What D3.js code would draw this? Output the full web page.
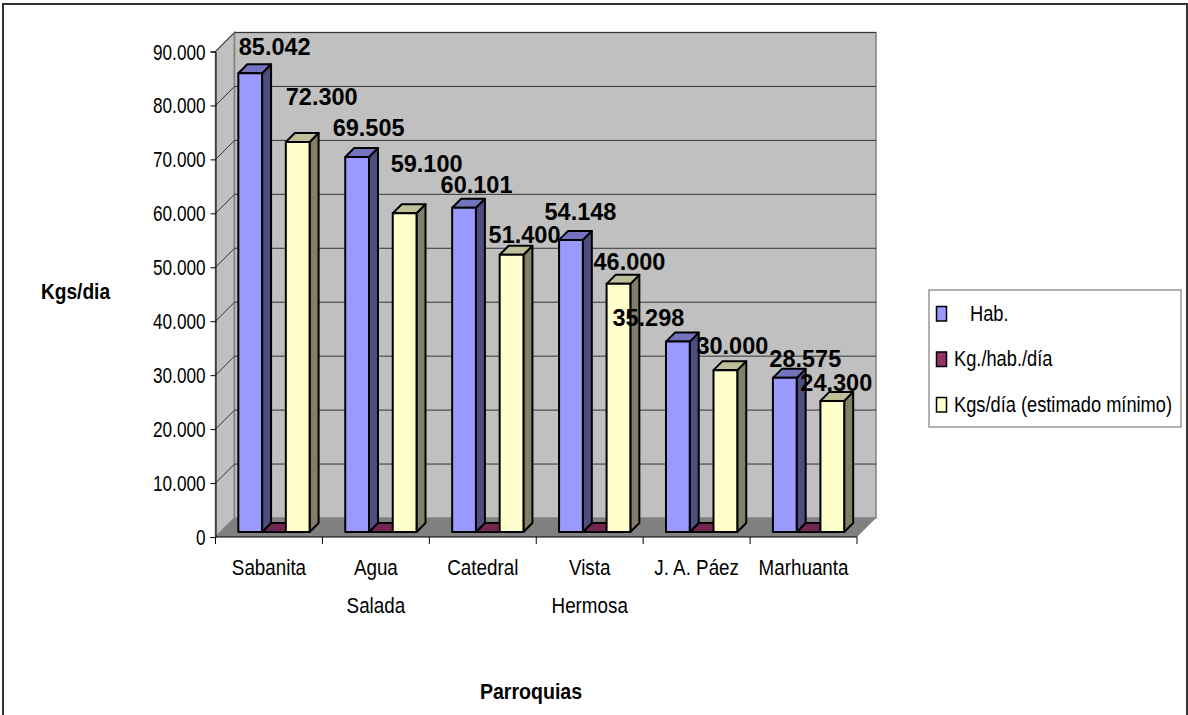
<!DOCTYPE html>
<html>
<head>
<meta charset="utf-8">
<script src="https://cdn.jsdelivr.net/npm/d3@7"></script>
<style>
  html, body { margin: 0; padding: 0; background: #fff; }
  svg { display: block; }
  text { font-family: "Liberation Sans", Arial, sans-serif; fill: #000; }
</style>
</head>
<body>
<svg id="chart" width="1188" height="715"></svg>
<script>
// datos
const parroquias = ["Sabanita", "Agua Salada", "Catedral", "Vista Hermosa", "J. A. Páez", "Marhuanta"];
const series = ["Hab.", "Kg./hab./día", "Kgs/día (estimado mínimo)"];
const hab = [85042, 69505, 60101, 54148, 35298, 28575];
const kgHab = [0.85, 0.85, 0.85, 0.85, 0.85, 0.85];
const kgsDia = [72300, 59100, 51400, 46000, 30000, 24300];
const yTicks = [0, 10000, 20000, 30000, 40000, 50000, 60000, 70000, 80000, 90000];

// colores: frente, lado, tapa
const colores = [
  { front: "#9999FF", side: "#4D4D80", top: "#7373BF" },
  { front: "#993366", side: "#4D1A33", top: "#732650" },
  { front: "#FFFFCC", side: "#808066", top: "#BFBF99" }
];

// ajuste manual de las etiquetas, como en el original
const nudgeHab = [[24.5, -18], [11.5, -21], [12.5, -15], [9.5, -20], [-29.5, -16], [20.5, -11]];
const nudgeKgs = [[24, -37], [22, -41], [13, -12], [11, -14], [7, -16], [4, -10]];

const svg = d3.select("#chart");

// marco exterior
svg.append("path")
  .attr("d", "M3,715V4H1187V715")
  .attr("fill", "none")
  .attr("stroke", "#333")
  .attr("stroke-width", 2);

// ===============================
// Escalas
// ===============================
const x0 = 215.5, x1 = 857, yBase = 537, yTop = 51.5;
const depth = 19, barDepth = 9, barOff = 5;

const y = d3.scaleLinear().domain([0, 90000]).range([yBase, yTop]);
const xCat = d3.scaleBand().domain(d3.range(parroquias.length)).range([x0, x1]).paddingInner(0).paddingOuter(0);
const xSer = d3.scaleBand().domain(d3.range(3)).range([0, xCat.bandwidth()]).paddingOuter(0.75).paddingInner(0);

// ===============================
// Paredes y suelo
// ===============================
const wall = svg.append("g");
const wallStroke = "#808080";

wall.append("path")
  .attr("d", `M${x0},${yBase}L${x0 + depth},${yBase - depth}V${yTop - depth}L${x0},${yTop}Z`)
  .attr("fill", "#C0C0C0").attr("stroke", wallStroke).attr("stroke-width", 1.5);
wall.append("rect")
  .attr("x", x0 + depth).attr("y", yTop - depth)
  .attr("width", x1 - x0).attr("height", yBase - yTop)
  .attr("fill", "#C0C0C0").attr("stroke", wallStroke).attr("stroke-width", 1.5);
wall.append("path")
  .attr("d", `M${x0},${yBase}L${x0 + depth},${yBase - depth}H${x1 + depth}L${x1},${yBase}Z`)
  .attr("fill", "#808080");

// lineas de la rejilla
wall.selectAll(".grid")
  .data(yTicks.slice(1))
  .enter()
  .append("path")
  .attr("class", "grid")
  .attr("d", d => `M${x0},${y(d)}L${x0 + depth},${y(d) - depth}H${x1 + depth}`)
  .attr("fill", "none")
  .attr("stroke", "#333")
  .attr("stroke-width", 1);

// ===============================
// Barras
// ===============================
function barPaths(g, i, s, value) {
  const bx = xCat(i) + xSer(s) + barOff;
  const bw = xSer.bandwidth();
  const by0 = y(0) - barOff;
  const by1 = y(value) - barOff;
  const c = colores[s];
  const sel = g.append("g").attr("stroke", "#000").attr("stroke-width", 2).attr("stroke-linejoin", "round");
  sel.append("path").attr("fill", c.side)
    .attr("d", `M${bx + bw},${by0}l${barDepth},${-barDepth}V${by1 - barDepth}L${bx + bw},${by1}Z`);
  sel.append("path").attr("fill", c.top)
    .attr("d", `M${bx},${by1}l${barDepth},${-barDepth}h${bw}l${-barDepth},${barDepth}Z`);
  sel.append("rect").attr("fill", c.front)
    .attr("x", bx).attr("y", by1).attr("width", bw).attr("height", by0 - by1);
}

const bars = svg.append("g");
parroquias.forEach((p, i) => {
  barPaths(bars, i, 1, kgHab[i]);
  barPaths(bars, i, 0, hab[i]);
  barPaths(bars, i, 2, kgsDia[i]);
});

// ===============================
// Ejes
// ===============================
const axisLeft = d3.axisLeft(y)
  .tickValues(yTicks)
  .tickSize(5)
  .tickPadding(1)
  .tickFormat(d => d3.format(",")(d).replace(/,/g, "."));

const gy = svg.append("g").attr("transform", `translate(${x0},0)`).call(axisLeft);
gy.selectAll("path, line").attr("stroke", "#000");
gy.selectAll("text")
  .style("font-size", "22px")
  .attr("text-anchor", "end")
  .attr("dy", null)
  .attr("x", null)
  .attr("y", null)
  .attr("transform", "translate(-10,7.5) scale(0.78,1)");

const gx = svg.append("g");
gx.append("line").attr("x1", x0).attr("x2", x1).attr("y1", yBase).attr("y2", yBase).attr("stroke", "#000");
d3.range(parroquias.length + 1).forEach(i => {
  const tx = x0 + i * xCat.step();
  gx.append("line").attr("x1", tx).attr("x2", tx).attr("y1", yBase).attr("y2", yBase + 7).attr("stroke", "#000");
});

parroquias.forEach((p, i) => {
  const partes = p === "J. A. Páez" ? [p] : p.split(" ");
  partes.forEach((t, k) => {
    gx.append("text")
      .attr("transform", `translate(${xCat(i) + xCat.bandwidth() / 2},${575 + k * 38}) scale(0.855,1)`)
      .attr("text-anchor", "middle")
      .style("font-size", "22px")
      .text(t);
  });
});

// ===============================
// Etiquetas de datos
// ===============================
function dataLabels(values, s, nudge) {
  svg.append("g").selectAll("text")
    .data(values)
    .enter()
    .append("text")
    .attr("x", (d, i) => xCat(i) + xSer(s) + barOff + xSer.bandwidth() / 2 + nudge[i][0])
    .attr("y", (d, i) => y(d) - barOff + nudge[i][1])
    .attr("text-anchor", "middle")
    .style("font-size", "23.5px")
    .style("font-weight", "bold")
    .text(d => d3.format(",")(d).replace(/,/g, "."));
}
dataLabels(hab, 0, nudgeHab);
dataLabels(kgsDia, 2, nudgeKgs);

// ===============================
// Titulos de ejes
// ===============================
svg.append("text")
  .attr("transform", "translate(75.5,298.5) scale(0.87,1)")
  .attr("text-anchor", "middle")
  .style("font-size", "22px").style("font-weight", "bold")
  .text("Kgs/dia");
svg.append("text")
  .attr("transform", "translate(531,698.5) scale(0.89,1)")
  .attr("text-anchor", "middle")
  .style("font-size", "22px").style("font-weight", "bold")
  .text("Parroquias");

// ===============================
// Leyenda
// ===============================
const legend = svg.append("g");
legend.append("rect")
  .attr("x", 929).attr("y", 290)
  .attr("width", 252).attr("height", 137)
  .attr("fill", "#fff").attr("stroke", "#666").attr("stroke-width", 1);

series.forEach((t, i) => {
  const ly = 321 + i * 45.5;
  legend.append("rect")
    .attr("x", 936.5).attr("y", ly - 14.5)
    .attr("width", 10).attr("height", 14.5)
    .attr("fill", colores[i].front)
    .attr("stroke", "#000").attr("stroke-width", 1.5);
  legend.append("text")
    .attr("transform", `translate(${i === 0 ? 970 : 954},${ly - 0.5}) scale(0.83,1)`)
    .style("font-size", "22px")
    .text(t);
});
</script>
</body>
</html>
